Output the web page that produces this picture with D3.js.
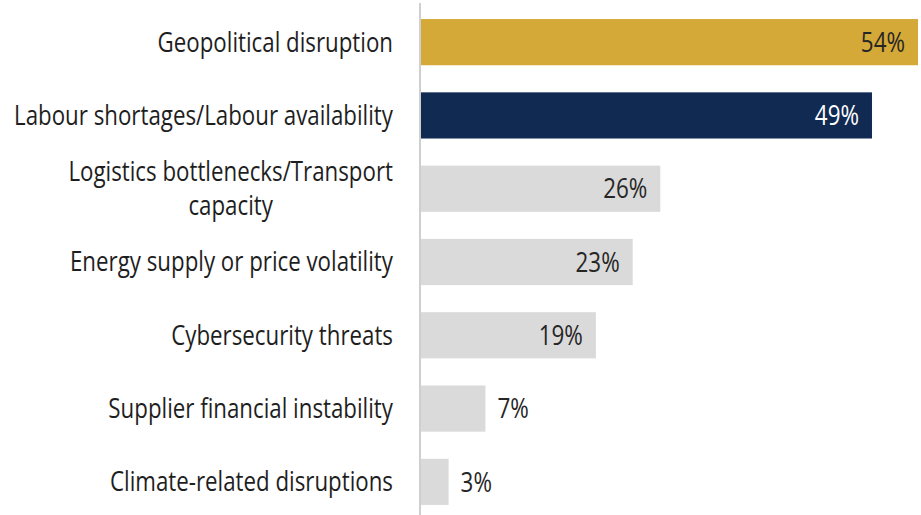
<!DOCTYPE html>
<html>
<head>
<meta charset="utf-8">
<script src="https://cdn.jsdelivr.net/npm/d3@7"></script>
<style>
  html, body { margin: 0; padding: 0; background: #ffffff; }
  svg { display: block; font-family: "Open Sans", "Noto Sans", sans-serif; }
</style>
</head>
<body>
<svg id="chart" width="921" height="515"></svg>
<script>
// Share of respondents citing each supply-chain risk
const categories = [
  "Geopolitical disruption",
  "Labour shortages/Labour availability",
  "Logistics bottlenecks/Transport\ncapacity",
  "Energy supply or price volatility",
  "Cybersecurity threats",
  "Supplier financial instability",
  "Climate-related disruptions"
];
const values = [54, 49, 26, 23, 19, 7, 3];

const width = 921, height = 515;
const axisX = 420;
const labelRight = 393;
const catFontSize = 27, catWidthWidest = 379;
const valFontSize = 27, valSqueeze = 0.83;
const textWeight = 500;

const svg = d3.select("#chart");
svg.append("rect").attr("width", width).attr("height", height).attr("fill", "#ffffff");

const x = d3.scaleLinear().domain([0, 54]).range([axisX + 1, 918]);
const y = d3.scaleBand().domain(categories).range([5.5, 518.5])
  .paddingInner(0.37).paddingOuter(0.185);

const barColor = d3.scaleOrdinal()
  .domain(categories)
  .range(["#d4a937", "#112a52", "#dadada", "#dadada", "#dadada", "#dadada", "#dadada"]);
const valueColor = d3.scaleOrdinal()
  .domain(categories)
  .range(["#262626", "#ffffff", "#262626", "#262626", "#262626", "#262626", "#262626"]);

const rows = categories.map((c, i) => ({ category: c, value: values[i] }));

// bars
svg.append("g").selectAll("rect").data(rows).join("rect")
  .attr("x", x(0))
  .attr("y", d => y(d.category))
  .attr("width", d => x(d.value) - x(0))
  .attr("height", y.bandwidth())
  .attr("fill", d => barColor(d.category));

// vertical baseline
svg.append("line")
  .attr("x1", axisX).attr("x2", axisX)
  .attr("y1", 3).attr("y2", height)
  .attr("stroke", "#cfcfcf").attr("stroke-width", 2);

// category labels: right-aligned block, multi-line entries centred on each other
const catG = svg.append("g").selectAll("g").data(rows).join("g");
const widths = [];
catG.each(function (d) {
  const g = d3.select(this);
  const lines = d.category.split("\n");
  const lh = 1.25;
  const first = -(lines.length - 1) * lh / 2;
  const txt = g.append("text")
    .attr("text-anchor", "middle")
    .attr("font-size", catFontSize)
    .attr("font-weight", textWeight)
    .attr("fill", "#1e1e1e");
  lines.forEach((ln, k) => {
    txt.append("tspan").attr("x", 0)
      .attr("dy", k === 0 ? (first + 0.35) + "em" : lh + "em")
      .text(ln);
  });
  let maxW = 0;
  txt.selectAll("tspan").each(function () {
    maxW = Math.max(maxW, this.getComputedTextLength());
  });
  widths.push(maxW);
});
// condensed look: squeeze every label by the same factor so the widest fits its column
const catSqueeze = catWidthWidest / d3.max(widths);
catG.attr("transform", (d, i) => {
  const cy = y(d.category) + y.bandwidth() / 2;
  return `translate(${labelRight - widths[i] * catSqueeze / 2},${cy}) scale(${catSqueeze},1)`;
});

// value labels: inside the bar end for long bars, just past it for short ones
svg.append("g").selectAll("text").data(rows).join("text")
  .attr("transform", d => {
    const inside = d.value >= 10;
    const tx = inside ? x(d.value) - 13 : x(d.value) + 12;
    return `translate(${tx},${y(d.category) + y.bandwidth() / 2}) scale(${valSqueeze},1)`;
  })
  .attr("text-anchor", d => d.value >= 10 ? "end" : "start")
  .attr("dy", "0.36em")
  .attr("font-size", valFontSize)
  .attr("font-weight", textWeight)
  .attr("fill", d => valueColor(d.category))
  .text(d => d.value + "%");
</script>
</body>
</html>
